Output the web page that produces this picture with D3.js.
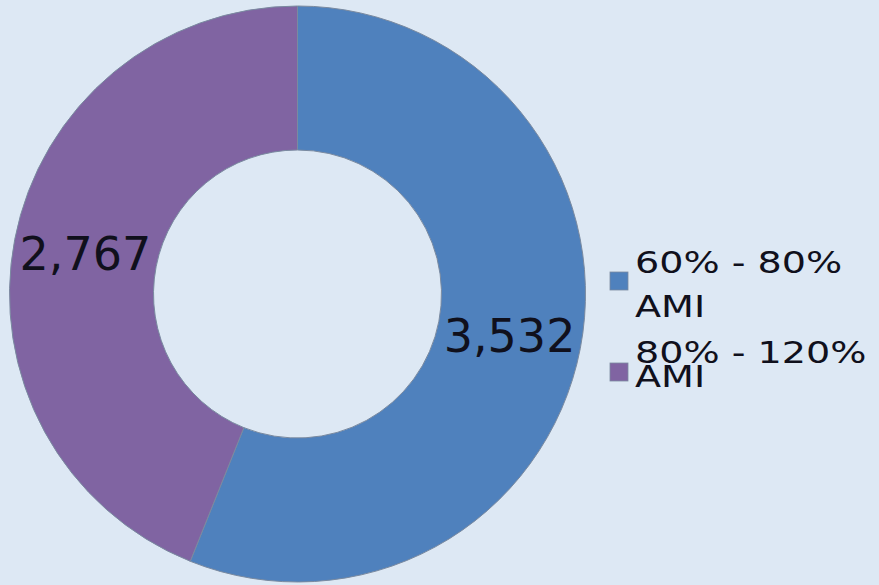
<!DOCTYPE html>
<html>
<head>
<meta charset="utf-8">
<script src="https://cdn.jsdelivr.net/npm/d3@7"></script>
<style>
  html, body { margin: 0; padding: 0; background: #dde8f4; }
  svg { display: block; }
</style>
</head>
<body>
<svg id="chart" width="879" height="585"></svg>
<script>
// Households by income band (share of Area Median Income)
const categories = ["60% - 80% AMI", "80% - 120% AMI"];
const legendLines = [["60% - 80%", "AMI"], ["80% - 120%", "AMI"]];
const values = [3532, 2767];
const colors = ["#4f81bd", "#8064a2"];

const svg = d3.select("#chart");
const cx = 297.5, cy = 294;
const outerR = 288, innerR = 144;

const pie = d3.pie().sort(null).value(d => d)(values);
const arc = d3.arc().innerRadius(innerR).outerRadius(outerR);
const fmt = d3.format(",");

const g = svg.append("g").attr("transform", `translate(${cx},${cy})`);

g.selectAll("path.slice")
  .data(pie)
  .join("path")
  .attr("class", "slice")
  .attr("d", arc)
  .attr("fill", (d, i) => colors[i])
  .attr("stroke", "#7a8aa0")
  .attr("stroke-width", 1);

// value labels at the centre of each ring segment
g.selectAll("text.value")
  .data(pie)
  .join("text")
  .attr("class", "value")
  .attr("x", d => arc.centroid(d)[0])
  .attr("y", d => arc.centroid(d)[1])
  .attr("dy", "0.36em")
  .attr("text-anchor", "middle")
  .attr("font-family", "DejaVu Sans, Verdana, sans-serif")
  .attr("font-size", 46)
  .attr("fill", "#10101c")
  .text(d => fmt(d.data));

// legend
const legend = svg.append("g").attr("transform", "translate(610,0)");
const itemTops = [272, 363];
const lineBaselines = [[273, 317], [363, 387]];

categories.forEach((c, i) => {
  legend.append("rect")
    .attr("x", 0)
    .attr("y", itemTops[i])
    .attr("width", 18)
    .attr("height", 18)
    .attr("fill", colors[i])
    .attr("stroke", "#7a8aa0")
    .attr("stroke-width", 0.8);
  legendLines[i].forEach((line, j) => {
    legend.append("text")
      .attr("transform", `translate(25,${lineBaselines[i][j]}) scale(1.27,1)`)
      .attr("font-family", "DejaVu Sans, Verdana, sans-serif")
      .attr("font-size", 30)
      .attr("fill", "#10101c")
      .text(line);
  });
});
</script>
</body>
</html>
